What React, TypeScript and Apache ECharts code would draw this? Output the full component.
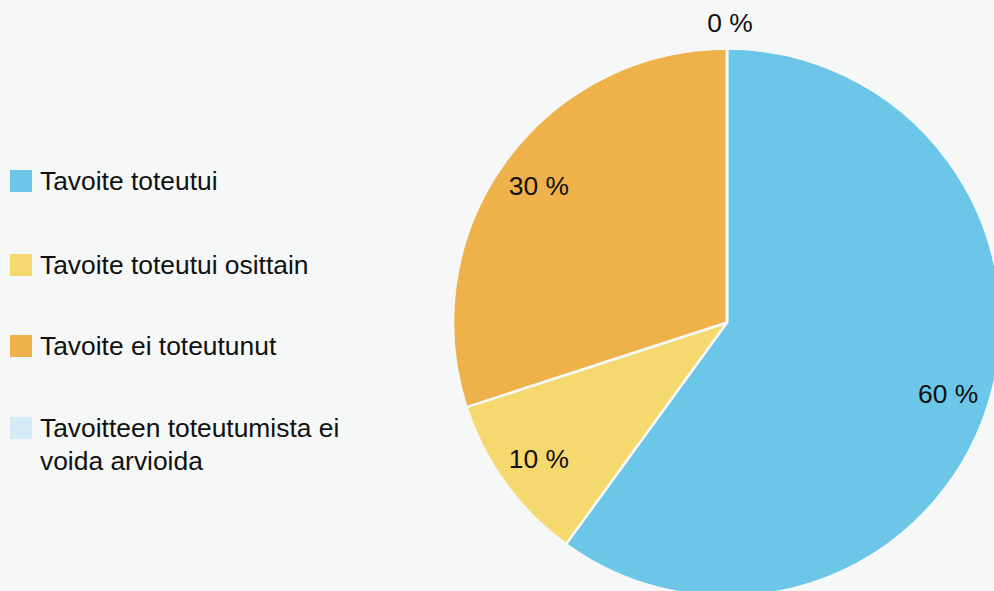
import React, { useEffect, useRef } from "react";
import * as echarts from "echarts";

const categories = [
  "Tavoite toteutui",
  "Tavoite toteutui osittain",
  "Tavoite ei toteutunut",
  "Tavoitteen toteutumista ei voida arvioida",
];
const values = [60, 10, 30, 0];
const colors = ["#6cc6e7", "#f5d96f", "#efb24b", "#d4ecf8"];
const legendTops = [168, 252, 333, 417];
const BG = "#f5f8f7";
const FONT = "'Liberation Sans', Arial, sans-serif";
const FS = 26.4;

export default function App() {
  const ref = useRef<HTMLDivElement>(null);
  useEffect(() => {
    if (!ref.current) return;
    const chart = echarts.init(ref.current, undefined, { renderer: "svg" });
    const data = categories.map((name, i) => ({
      name,
      value: values[i],
      itemStyle: { color: colors[i] },
    }));
    const labelData = categories.map((name, i) => ({
      name,
      value: values[i],
      itemStyle: { color: "rgba(0,0,0,0)" },
      label: values[i] === 0 ? { offset: [3, -67] } : {},
    }));
    const legends = categories.map((name, i) => {
      const multi = i === 3;
      return {
        orient: "vertical",
        left: 10,
        top: multi ? legendTops[i] - 38.5 : legendTops[i],
        padding: 0,
        icon: "rect",
        itemWidth: 22,
        itemHeight: 22,
        itemGap: 0,
        selectedMode: false,
        formatter: multi ? (n: string) => "\n" + n : undefined,
        itemStyle: { borderWidth: 0 },
        textStyle: {
          fontFamily: FONT,
          fontSize: FS,
          color: "#111",
          lineHeight: multi ? 33 : 22,
          width: 320,
          overflow: "break",
          padding: [0, 0, 0, 3],
        },
        data: [{ name, itemStyle: { color: colors[i], borderWidth: 0 } }],
      };
    });
    chart.setOption({
      animation: false,
      backgroundColor: BG,
      legend: legends,
      series: [
        {
          type: "pie",
          center: [727, 322.5],
          radius: [0, 274],
          startAngle: 90,
          clockwise: true,
          silent: true,
          label: { show: false },
          labelLine: { show: false },
          itemStyle: { borderColor: BG, borderWidth: 2.5 },
          data,
        },
        {
          type: "pie",
          center: [727, 322.5],
          radius: [185, 274],
          startAngle: 90,
          clockwise: true,
          silent: true,
          label: {
            show: true,
            position: "inside",
            formatter: "{c} %",
            fontFamily: FONT,
            fontSize: FS,
            color: "#111",
          },
          labelLine: { show: false },
          data: labelData,
        },
      ],
    });
    return () => chart.dispose();
  }, []);
  return (
    <div
      ref={ref}
      style={{ position: "fixed", left: 0, top: 0, width: 994, height: 591 }}
    />
  );
}
